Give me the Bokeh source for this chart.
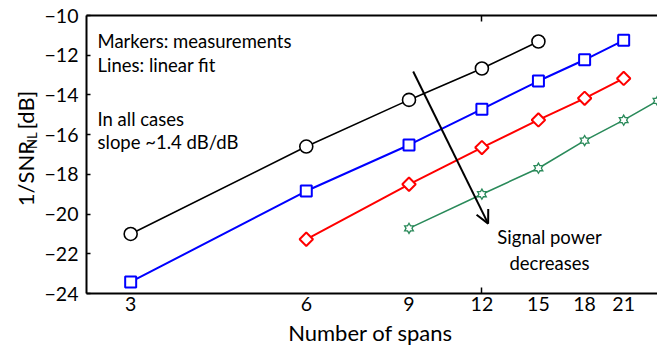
import numpy as np
from bokeh.plotting import figure
from bokeh.layouts import row, column
from bokeh.models import (LogAxis, LinearAxis, FixedTicker, Label, Arrow, OpenHead,
                          Range1d, BasicTickFormatter, LogScale)
from bokeh.core.properties import value
from bokeh.embed import file_html
from bokeh.resources import INLINE

# ---- data ----
spans_black = [3, 6, 9, 12, 15]
snr_black = [-21.0, -16.6, -14.25, -12.67, -11.31]
spans_blue = [3, 6, 9, 12, 15, 18, 21]
snr_blue = [-23.42, -18.84, -16.52, -14.72, -13.3, -12.23, -11.25]
spans_red = [6, 9, 12, 15, 18, 21]
snr_red = [-21.27, -18.5, -16.65, -15.26, -14.17, -13.17]
spans_green = [9, 12, 15, 18, 21, 24]
snr_green = [-20.72, -19.0, -17.69, -16.3, -15.27, -14.3]
x_ticks = [3, 6, 9, 12, 15, 18, 21]
y_ticks = [-24, -22, -20, -18, -16, -14, -12, -10]
x_title = "Number of spans"

FONT = "Lato"
BLUE = "#0000ff"
RED = "#ff0000"
GREEN = "#2a8a5a"
W = 657
LABEL_W = 40
TOP_H = 320
BOT_H = 25

# ---- main plot ----
p = figure(width=W - LABEL_W, height=TOP_H, x_axis_type=None, y_axis_type=None,
           x_range=Range1d(2.52, 24), y_range=Range1d(-24, -10),
           output_backend="svg", toolbar_location=None,
           min_border_left=86 - LABEL_W, min_border_right=0, min_border_top=15,
           min_border_bottom=TOP_H - 293)
p.x_scale = LogScale()
p.outline_line_color = None
p.background_fill_color = "white"
p.border_fill_color = "white"

xaxis = LogAxis(ticker=FixedTicker(ticks=x_ticks, minor_ticks=[12]),
                formatter=BasicTickFormatter())
yaxis = LinearAxis(ticker=FixedTicker(ticks=y_ticks))
top = LogAxis(ticker=FixedTicker(ticks=[], minor_ticks=[12]))
for ax in (xaxis, yaxis, top):
    ax.axis_line_width = 2
    ax.axis_line_color = "black"
    ax.major_tick_out = 0
    ax.minor_tick_out = 0
    ax.minor_tick_line_width = 1.5
    ax.major_tick_line_width = 1.5
    ax.major_label_text_font = FONT
    ax.major_label_text_font_size = "19.5px"
    ax.major_label_text_color = "black"
xaxis.major_tick_in = 0
xaxis.minor_tick_in = 6
xaxis.major_label_standoff = 3
yaxis.major_tick_in = 4
yaxis.minor_tick_line_color = None
yaxis.major_label_standoff = 8
top.major_tick_in = 0
top.minor_tick_in = 6
top.major_label_text_font_size = "0px"
top.major_label_standoff = 0
p.add_layout(xaxis, "below")
p.add_layout(yaxis, "left")
p.add_layout(top, "above")

p.xgrid.grid_line_color = "#b8b8b8"
p.xgrid.grid_line_dash = "1 3"
p.ygrid.grid_line_color = "#b8b8b8"
p.ygrid.grid_line_dash = "1 3"
p.xgrid.ticker = FixedTicker(ticks=x_ticks)
p.ygrid.ticker = FixedTicker(ticks=y_ticks)

# series
p.line(spans_black, snr_black, line_color="black", line_width=1.6)
p.scatter(spans_black, snr_black, marker="circle", size=13, line_color="black",
          line_width=1.6, fill_color="white")

p.line(spans_blue, snr_blue, line_color=BLUE, line_width=2)
p.scatter(spans_blue, snr_blue, marker="square", size=11, line_color=BLUE,
          line_width=2, fill_color="white")

p.line(spans_red, snr_red, line_color=RED, line_width=2)
p.scatter(spans_red, snr_red, marker="square", size=9.5, angle=np.pi / 4,
          line_color=RED, line_width=2, fill_color="white")

p.line(spans_green, snr_green, line_color=GREEN, line_width=1.6)
for mk in ("triangle", "inverted_triangle"):
    p.scatter(spans_green, snr_green, marker=mk, size=11, line_color=None,
              fill_color=GREEN)
for mk in ("triangle", "inverted_triangle"):
    p.scatter(spans_green, snr_green, marker=mk, size=6.5, line_color=None,
              fill_color="white")

# arrow
ARROW_X0, ARROW_Y0, ARROW_X1, ARROW_Y1 = 9.15, -12.82, 12.3, -20.48
p.add_layout(Arrow(end=OpenHead(size=13, line_width=2, line_color="black"),
                   x_start=ARROW_X0, y_start=ARROW_Y0, x_end=ARROW_X1, y_end=ARROW_Y1,
                   line_width=2, line_color="black"))

# text annotations (screen units, relative to the frame's bottom-left)
def add_label(text, x, y, align="left", size="18.5px"):
    p.add_layout(Label(x=x, y=y, x_units="screen", y_units="screen", text=text,
                       text_font=FONT, text_font_size=size, text_color="black",
                       text_align=align, text_baseline="alphabetic"))

add_label("Markers: measurements", 11, 253)
add_label("Lines: linear fit", 11, 229)
add_label("In all cases", 11, 175)
add_label("slope ~1.4 dB/dB", 11, 152)
add_label("Signal power", 463, 57, align="center")
add_label("decreases", 463, 31, align="center")

# ---- y axis title with subscript, in its own narrow figure ----
lf = figure(width=LABEL_W, height=TOP_H, x_range=Range1d(0, LABEL_W),
            y_range=Range1d(0, TOP_H), x_axis_type=None, y_axis_type=None,
            output_backend="svg", toolbar_location=None, min_border=0)
lf.outline_line_color = None
lf.grid.visible = False
lf.border_fill_color = "white"
lf.background_fill_color = "white"

# centres of each piece (rotated text, reading bottom to top)
ylab_text = ["1/SNR", "NL", "[dB]"]
ylab_x = [25, 31, 25]
ylab_y = [TOP_H - 182, TOP_H - 144, TOP_H - 109]
ylab_size = ["22px", "13px", "22px"]
for t, xx, yy, fs in zip(ylab_text, ylab_x, ylab_y, ylab_size):
    lf.text(x=[xx], y=[yy], text=[t], angle=np.pi / 2, text_font=value(FONT),
            text_font_size=value(fs), text_color="black",
            text_align="center", text_baseline="middle")

# ---- x axis title, in its own strip under the plot ----
bf = figure(width=W, height=BOT_H, x_range=Range1d(0, W), y_range=Range1d(0, BOT_H),
            x_axis_type=None, y_axis_type=None, output_backend="svg",
            toolbar_location=None, min_border=0)
bf.outline_line_color = None
bf.grid.visible = False
bf.border_fill_color = "white"
bf.background_fill_color = "white"
bf.text(x=[370], y=[BOT_H - (332 - TOP_H)], text=[x_title], text_font=value(FONT),
        text_font_size=value("22px"), text_color="black",
        text_align="center", text_baseline="middle")

open("out.html", "w").write(file_html(column(row(lf, p), bf), INLINE))
